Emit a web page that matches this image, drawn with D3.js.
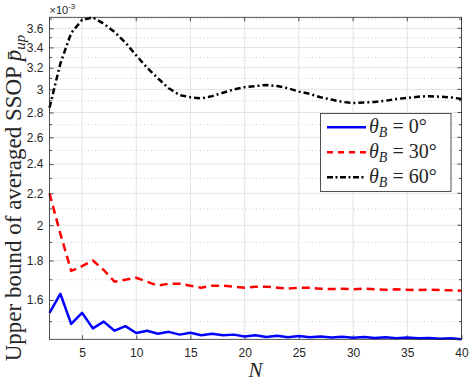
<!DOCTYPE html>
<html>
<head>
  <meta charset="utf-8">
  <script src="https://d3js.org/d3.v7.min.js"></script>
  <style>
    body { margin: 0; background: #fff; }
    svg { display: block; }
    .tick text { font-family: "Liberation Sans", Arial, sans-serif; font-size: 12px; fill: #262626; }
  </style>
</head>
<body>
<script>
  "use strict";
  // N values on the x axis
  var nValues = [2, 3, 4, 5, 6, 7, 8, 9, 10, 11, 12, 13, 14, 15, 16, 17, 18, 19, 20, 21,
                 22, 23, 24, 25, 26, 27, 28, 29, 30, 31, 32, 33, 34, 35, 36, 37, 38, 39, 40];
  // upper bound of averaged SSOP, in units of 1e-3
  var theta0 = [1.54, 1.63, 1.49, 1.54, 1.47, 1.50, 1.46, 1.48, 1.45, 1.46, 1.447, 1.455, 1.443,
                1.451, 1.44, 1.447, 1.44, 1.443, 1.435, 1.44, 1.433, 1.438, 1.432, 1.437, 1.432,
                1.435, 1.431, 1.434, 1.430, 1.433, 1.429, 1.432, 1.428, 1.431, 1.427, 1.429,
                1.425, 1.427, 1.423];
  var theta30 = [2.20, 1.95, 1.745, 1.77, 1.80, 1.75, 1.69, 1.70, 1.71, 1.69, 1.67, 1.68, 1.68,
                 1.67, 1.66, 1.67, 1.67, 1.665, 1.66, 1.665, 1.665, 1.66, 1.655, 1.66, 1.66,
                 1.655, 1.653, 1.655, 1.652, 1.655, 1.652, 1.65, 1.652, 1.65, 1.648, 1.65,
                 1.648, 1.647, 1.645];
  var theta60 = [2.84, 3.24, 3.55, 3.69, 3.72, 3.65, 3.56, 3.45, 3.32, 3.20, 3.10, 3.01, 2.95,
                 2.93, 2.92, 2.94, 2.97, 3.00, 3.02, 3.03, 3.04, 3.03, 3.01, 2.98, 2.96, 2.93,
                 2.91, 2.89, 2.88, 2.885, 2.89, 2.90, 2.915, 2.925, 2.935, 2.94, 2.935, 2.93, 2.915];
  var xTicks = [5, 10, 15, 20, 25, 30, 35, 40];
  var yTicks = [1.6, 1.8, 2.0, 2.2, 2.4, 2.6, 2.8, 3.0, 3.2, 3.4, 3.6];
  var yMinor = [1.5, 1.7, 1.9, 2.1, 2.3, 2.5, 2.7, 2.9, 3.1, 3.3, 3.5, 3.7];
  var seriesNames = ["0", "30", "60"];

  function draw() {
    var width = 470, height = 382;
    var left = 49.5, right = 461.5, top = 17.3, bottom = 339.3;

    var svg = d3.select("body").append("svg")
        .attr("width", width)
        .attr("height", height);

    var x = d3.scaleLinear().domain([2, 40]).range([left, right]);
    var y = d3.scaleLog().domain([1.423, 3.72]).range([bottom, top]);

    // grid
    var grid = svg.append("g");
    grid.selectAll("line.minor").data(yMinor).enter().append("line")
        .attr("x1", left).attr("x2", right)
        .attr("y1", function (d) { return y(d); })
        .attr("y2", function (d) { return y(d); })
        .style("stroke", "#b8b8b8").style("stroke-width", 0.7)
        .style("stroke-dasharray", "1,2.5");
    grid.selectAll("line.ymaj").data(yTicks).enter().append("line")
        .attr("x1", left).attr("x2", right)
        .attr("y1", function (d) { return y(d); })
        .attr("y2", function (d) { return y(d); })
        .style("stroke", "#e3e3e3").style("stroke-width", 1);
    grid.selectAll("line.xmaj").data(xTicks).enter().append("line")
        .attr("y1", top).attr("y2", bottom)
        .attr("x1", function (d) { return x(d); })
        .attr("x2", function (d) { return x(d); })
        .style("stroke", "#e3e3e3").style("stroke-width", 1);

    // axes
    var xAxis = d3.axisBottom(x).tickValues(xTicks).tickSizeInner(-4).tickSizeOuter(0).tickPadding(9);
    var yAxis = d3.axisLeft(y).tickValues(yTicks).tickSizeInner(-4).tickSizeOuter(0).tickPadding(6)
        .tickFormat(function (d) { return String(+d.toFixed(1)); });

    var gx = svg.append("g").attr("transform", "translate(0," + bottom + ")").call(xAxis);
    var gy = svg.append("g").attr("transform", "translate(" + left + ",0)").call(yAxis);
    [gx, gy].forEach(function (g) {
      g.select(".domain").remove();
      g.selectAll(".tick line").style("stroke", "#262626").style("stroke-width", 0.8);
    });

    // minor ticks, left and right; ticks on top and right
    var ticks = svg.append("g").style("stroke", "#262626").style("stroke-width", 0.8);
    yMinor.forEach(function (d) {
      ticks.append("line").attr("x1", left).attr("x2", left + 2.5).attr("y1", y(d)).attr("y2", y(d));
      ticks.append("line").attr("x1", right).attr("x2", right - 2.5).attr("y1", y(d)).attr("y2", y(d));
    });
    yTicks.forEach(function (d) {
      ticks.append("line").attr("x1", right).attr("x2", right - 4).attr("y1", y(d)).attr("y2", y(d));
    });
    xTicks.forEach(function (d) {
      ticks.append("line").attr("x1", x(d)).attr("x2", x(d)).attr("y1", top).attr("y2", top + 4);
    });

    // series
    var line = d3.line()
        .x(function (d, i) { return x(nValues[i]); })
        .y(function (d) { return y(d); });
    var styles = [
      { data: theta0, color: "#0000ff", dash: null },
      { data: theta30, color: "#ff0000", dash: "8,5" },
      { data: theta60, color: "#000000", dash: "6,3,2,3" }
    ];
    var plot = svg.append("g");
    styles.forEach(function (s) {
      plot.append("path")
          .attr("d", line(s.data))
          .style("fill", "none")
          .style("stroke", s.color)
          .style("stroke-width", 2.5)
          .style("stroke-linejoin", "round")
          .style("stroke-dasharray", s.dash);
    });

    // box
    svg.append("rect")
        .attr("x", left).attr("y", top)
        .attr("width", right - left).attr("height", bottom - top)
        .style("fill", "none").style("stroke", "#262626").style("stroke-width", 0.8);

    // exponent label
    var ex = svg.append("text").attr("x", left).attr("y", 14)
        .style("font-family", "Liberation Sans, Arial, sans-serif")
        .style("font-size", "11px").style("fill", "#262626");
    ex.append("tspan").text("\u00d710");
    ex.append("tspan").attr("dy", -5).style("font-size", "8px").text("-3");

    // legend
    var lg = svg.append("g");
    lg.append("rect")
        .attr("x", 320.5).attr("y", 113.5).attr("width", 130.5).attr("height", 78)
        .style("fill", "#fff").style("stroke", "#262626").style("stroke-width", 0.8);
    styles.forEach(function (s, i) {
      var ly = 127.3 + i * 25;
      lg.append("line")
          .attr("x1", 327).attr("x2", 366).attr("y1", ly).attr("y2", ly)
          .style("stroke", s.color).style("stroke-width", 2.5)
          .style("stroke-dasharray", i === 1 ? "6,5" : (i === 2 ? "6,2.5,2,2.5" : null));
      var t = lg.append("text").attr("x", 369).attr("y", ly + 6)
          .style("font-family", "Liberation Serif, Times New Roman, serif")
          .style("font-size", "20px").style("fill", "#262626");
      t.append("tspan").style("font-style", "italic").text("\u03b8");
      t.append("tspan").attr("dy", 4).style("font-style", "italic").style("font-size", "14px").text("B");
      t.append("tspan").attr("dy", -4).text(" = " + seriesNames[i] + "\u00b0");
    });

    // axis labels
    svg.append("text")
        .attr("x", (left + right) / 2).attr("y", 377)
        .style("text-anchor", "middle")
        .style("font-family", "Liberation Serif, Times New Roman, serif")
        .style("font-style", "italic").style("font-size", "21px").style("fill", "#262626")
        .text("N");

    var yl = svg.append("text")
        .attr("transform", "translate(21,198) rotate(-90)")
        .style("text-anchor", "middle")
        .style("font-family", "Liberation Serif, Times New Roman, serif")
        .style("font-size", "23px").style("fill", "#262626");
    yl.append("tspan").text("Upper bound of averaged SSOP ");
    yl.append("tspan").style("font-style", "italic").text("p\u0304");
    yl.append("tspan").attr("dy", 4).style("font-style", "italic").style("font-size", "15px").text("up");
  }

  draw();
</script>
</body>
</html>
